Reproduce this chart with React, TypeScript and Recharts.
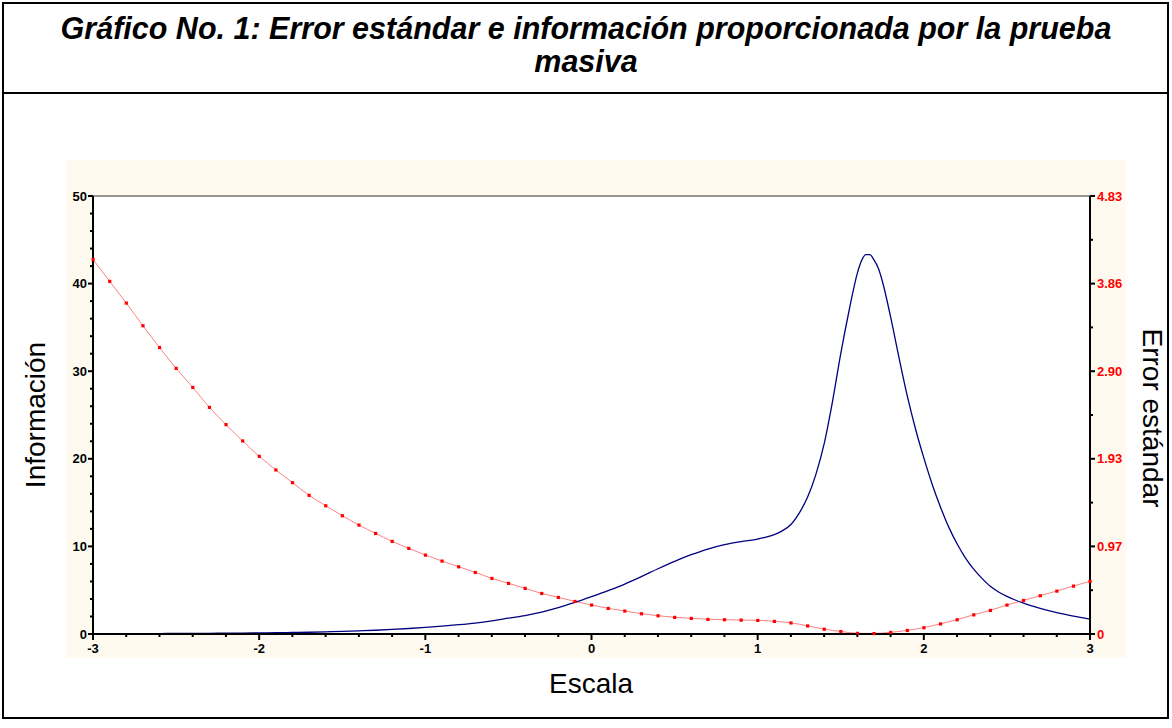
import { LineChart, Line, XAxis, YAxis, CartesianGrid, ReferenceLine } from "recharts";

const FONT = "'Liberation Sans', Arial, sans-serif";

// curva de información (eje izquierdo)
const escalaInfo = [
  -3.0, -2.9, -2.8, -2.7, -2.6, -2.5, -2.4, -2.3, -2.2, -2.1,
  -2.0, -1.9, -1.8, -1.7, -1.6, -1.5, -1.4, -1.3, -1.2, -1.1,
  -1.0, -0.9, -0.8, -0.7, -0.6, -0.5, -0.4, -0.3, -0.2, -0.1,
  0.0, 0.1, 0.2, 0.3, 0.4, 0.5, 0.6, 0.7, 0.8, 0.9,
  1.0, 1.05, 1.1, 1.15, 1.2, 1.25, 1.3, 1.35, 1.4, 1.45,
  1.5, 1.55, 1.6, 1.625, 1.65, 1.675, 1.7, 1.725, 1.75, 1.8,
  1.85, 1.9, 1.95, 2.0, 2.05, 2.1, 2.15, 2.2, 2.25, 2.3,
  2.35, 2.4, 2.45, 2.5, 2.55, 2.6, 2.7, 2.8, 2.9, 3.0,
];
const informacion = [
  0.03, 0.03, 0.04, 0.04, 0.05, 0.06, 0.07, 0.08, 0.09, 0.1,
  0.12, 0.14, 0.17, 0.2, 0.25, 0.3, 0.36, 0.43, 0.52, 0.63,
  0.76, 0.9, 1.06, 1.25, 1.5, 1.8, 2.1, 2.5, 3.0, 3.6,
  4.26, 4.95, 5.7, 6.55, 7.45, 8.3, 9.05, 9.7, 10.2, 10.55,
  10.84, 11.05, 11.35, 11.8, 12.5, 13.8, 15.6, 18.2, 21.7, 26.5,
  32.0, 36.9, 41.2, 42.6, 43.3, 43.3, 42.7, 41.8, 40.3, 36.2,
  31.6, 27.2, 23.4, 20.1, 17.1, 14.5, 12.2, 10.3, 8.7, 7.4,
  6.35, 5.45, 4.8, 4.3, 3.88, 3.52, 2.93, 2.45, 2.05, 1.7,
];

// error estándar (eje derecho)
const escalaError = [
  -3.0, -2.9, -2.8, -2.7, -2.6, -2.5, -2.4, -2.3, -2.2, -2.1,
  -2.0, -1.9, -1.8, -1.7, -1.6, -1.5, -1.4, -1.3, -1.2, -1.1,
  -1.0, -0.9, -0.8, -0.7, -0.6, -0.5, -0.4, -0.3, -0.2, -0.1,
  0.0, 0.1, 0.2, 0.3, 0.4, 0.5, 0.6, 0.7, 0.8, 0.9,
  1.0, 1.1, 1.2, 1.3, 1.4, 1.5, 1.6, 1.7, 1.8, 1.9,
  2.0, 2.1, 2.2, 2.3, 2.4, 2.5, 2.6, 2.7, 2.8, 2.9,
  3.0,
];
const errorEstandar = [
  4.13, 3.89, 3.65, 3.40, 3.16, 2.93, 2.72, 2.50, 2.31, 2.13,
  1.96, 1.81, 1.67, 1.53, 1.415, 1.305, 1.202, 1.11, 1.022, 0.945,
  0.871, 0.805, 0.742, 0.68, 0.614, 0.559, 0.504, 0.448, 0.404, 0.36,
  0.32, 0.283, 0.254, 0.224, 0.202, 0.184, 0.173, 0.162, 0.158, 0.154,
  0.151, 0.14, 0.123, 0.09, 0.054, 0.028, 0.008, 0.006, 0.018, 0.04,
  0.07, 0.112, 0.158, 0.212, 0.261, 0.32, 0.371, 0.423, 0.474, 0.529,
  0.581,
];

const escalaTicks = [
  -3, -2.8, -2.6, -2.4, -2.2, -2, -1.8, -1.6, -1.4, -1.2, -1, -0.8, -0.6, -0.4, -0.2,
  0, 0.2, 0.4, 0.6, 0.8, 1, 1.2, 1.4, 1.6, 1.8, 2, 2.2, 2.4, 2.6, 2.8, 3,
];
const infoTicks = [0, 2, 4, 6, 8, 10, 12, 14, 16, 18, 20, 22, 24, 26, 28, 30, 32, 34, 36, 38, 40, 42, 44, 46, 48, 50];
const errorTicks = [0, 0.483, 0.966, 1.449, 1.932, 2.415, 2.898, 3.381, 3.864, 4.347, 4.83];
const errorTickLabels = ["0", "", "0.97", "", "1.93", "", "2.90", "", "3.86", "", "4.83"];

const infoData = escalaInfo.map((x, i) => ({ x, info: informacion[i] }));
const errorData = escalaError.map((x, i) => ({ x, error: errorEstandar[i] }));

function BottomTick(props: any) {
  const { x, y, payload } = props;
  const v = payload.value;
  const major = Math.abs(v - Math.round(v)) < 1e-6;
  return (
    <g>
      <line x1={x} y1={y} x2={x} y2={y + (major ? 6 : 3)} stroke="#000" strokeWidth={2} />
      {major && (
        <text x={x} y={y + 19} textAnchor="middle" fontSize={13} fontWeight="bold" fill="#000" fontFamily={FONT}>
          {Math.round(v)}
        </text>
      )}
    </g>
  );
}

function LeftTick(props: any) {
  const { x, y, payload } = props;
  const v = payload.value;
  const major = v % 10 === 0;
  return (
    <g>
      <line x1={x} y1={y} x2={x - (major ? 5 : 3)} y2={y} stroke="#000" strokeWidth={2} />
      {major && (
        <text x={x - 6} y={y + 4.5} textAnchor="end" fontSize={13} fontWeight="bold" fill="#000" fontFamily={FONT}>
          {v}
        </text>
      )}
    </g>
  );
}

function RightTick(props: any) {
  const { x, y, index } = props;
  const label = errorTickLabels[index];
  const major = label !== "";
  return (
    <g>
      <line x1={x} y1={y} x2={x + (major ? 5 : 3)} y2={y} stroke="#000" strokeWidth={2} />
      {major && (
        <text x={x + 7} y={y + 4.5} textAnchor="start" fontSize={13} fontWeight="bold" fill="#ff0000" fontFamily={FONT}>
          {label}
        </text>
      )}
    </g>
  );
}

function ErrorDot(props: any) {
  const { cx, cy, index } = props;
  if (cx == null || cy == null) return <g key={index} />;
  return <rect key={index} x={cx - 1.5} y={cy - 1.5} width={3.2} height={3.2} fill="#ff0000" />;
}

export default function App() {
  return (
    <div style={{ position: "absolute", left: 0, top: 0, width: 1172, height: 728, background: "#fff" }}>
      <svg width={1172} height={728} style={{ position: "absolute", left: 0, top: 0 }}>
        <rect x={3} y={3} width={1165} height={715} fill="none" stroke="#000" strokeWidth={2} />
        <line x1={3} y1={93} x2={1168} y2={93} stroke="#000" strokeWidth={2} />
        <text x={586} y={39} textAnchor="middle" fontSize={30.5} fontWeight="bold" fontStyle="italic" fontFamily={FONT}>
          Gráfico No. 1: Error estándar e información proporcionada por la prueba
        </text>
        <text x={586} y={72} textAnchor="middle" fontSize={30.5} fontWeight="bold" fontStyle="italic" fontFamily={FONT}>
          masiva
        </text>
        <text x={35} y={415} textAnchor="middle" dominantBaseline="central" fontSize={28} fontFamily={FONT} transform="rotate(-90 35 415)">
          Información
        </text>
        <text x={1152} y={418} textAnchor="middle" dominantBaseline="central" fontSize={28} fontFamily={FONT} transform="rotate(90 1152 418)">
          Error estándar
        </text>
        <text x={591} y={683} textAnchor="middle" dominantBaseline="central" fontSize={28} fontFamily={FONT}>
          Escala
        </text>
      </svg>
      <div style={{ position: "absolute", left: 66, top: 160 }}>
        <LineChart width={1060} height={498} margin={{ top: 36, right: 0, bottom: 0, left: 0 }} style={{ background: "#fffaf0" }}>
          <CartesianGrid horizontal={false} vertical={false} fill="#ffffff" />
          <XAxis
            type="number"
            dataKey="x"
            domain={[-3, 3]}
            ticks={escalaTicks}
            interval={0}
            height={24}
            tickSize={0}
            tickMargin={0}
            tickLine={false}
            axisLine={{ stroke: "#000", strokeWidth: 2 }}
            tick={<BottomTick />}
            allowDuplicatedCategory={false}
          />
          <YAxis
            yAxisId="left"
            type="number"
            domain={[0, 50]}
            ticks={infoTicks}
            interval={0}
            width={27}
            tickSize={0}
            tickMargin={0}
            tickLine={false}
            axisLine={{ stroke: "#000", strokeWidth: 2 }}
            tick={<LeftTick />}
          />
          <YAxis
            yAxisId="right"
            orientation="right"
            type="number"
            domain={[0, 4.83]}
            ticks={errorTicks}
            interval={0}
            width={36}
            tickSize={0}
            tickMargin={0}
            tickLine={false}
            axisLine={{ stroke: "#000", strokeWidth: 2 }}
            tick={<RightTick />}
          />
          <ReferenceLine yAxisId="left" y={50} stroke="#333" strokeWidth={1} />
          <Line
            yAxisId="right"
            data={errorData}
            dataKey="error"
            type="monotone"
            stroke="#ff8080"
            strokeWidth={1}
            dot={<ErrorDot />}
            activeDot={false}
            isAnimationActive={false}
          />
          <Line
            yAxisId="left"
            data={infoData}
            dataKey="info"
            type="monotone"
            stroke="#000080"
            strokeWidth={1.3}
            dot={false}
            activeDot={false}
            isAnimationActive={false}
          />
        </LineChart>
      </div>
    </div>
  );
}
